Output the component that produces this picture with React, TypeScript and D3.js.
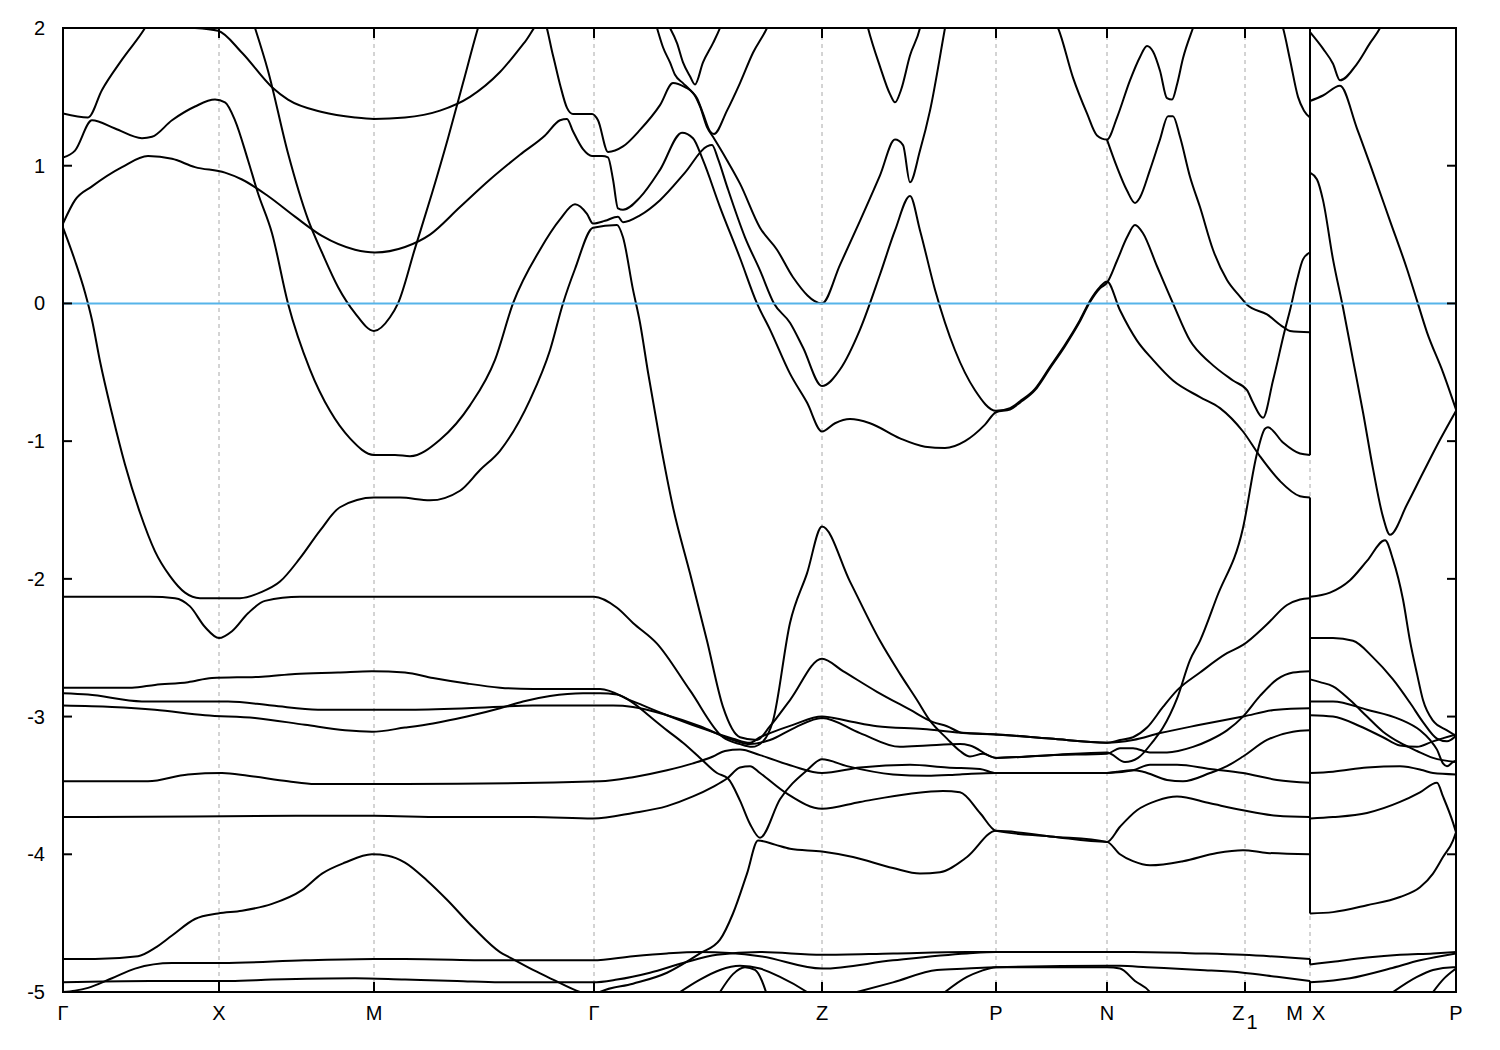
import React from "react";
import * as d3 from "d3";

// ---------- data ----------
const kMax = 13.93;
const eMin = -5;
const eMax = 2;

const symPointK = [0, 1.56, 3.11, 5.31, 7.59, 9.33, 10.44, 11.82, 12.47, 13.93];
const symPointLabels = ["Γ", "X", "M", "Γ", "Z", "P", "N", "Z1", "M|X", "P"];
const energyTicks = [2, 1, 0, -1, -2, -3, -4, -5];
const fermiLevel = 0;
// vertical connections at the M|X discontinuity: [E at top, E at bottom]
const mxJumps = [[2.0, -1.1], [-1.41, -4.43], [-4.76, -4.8], [-4.92, -4.93]];

const band01 = [[0, 1.38], [0.25, 1.35], [0.39, 1.55], [0.59, 1.77], [0.82, 2.0], [0.9, 2.1]];

const band02 = [[0, 1.06], [0.12, 1.11], [0.29, 1.33], [0.52, 1.27], [0.79, 1.2], [0.89, 1.21], [1.09, 1.33], [1.32, 1.43], [1.52, 1.48], [1.62, 1.46], [1.72, 1.33], [1.85, 1.04], [1.95, 0.8], [2.09, 0.51], [2.25, 0.0], [2.47, -0.48], [2.67, -0.78], [2.87, -0.98], [3.11, -1.1], [3.32, -1.1], [3.47, -1.11], [3.77, -0.99], [4.07, -0.74], [4.32, -0.41], [4.5, 0], [4.77, 0.39], [4.97, 0.61], [5.12, 0.72], [5.24, 0.65], [5.3, 0.58], [5.42, 0.6], [5.55, 0.63], [5.6, 0.59], [5.77, 0.64], [5.97, 0.75], [6.22, 0.95], [6.44, 1.14], [6.49, 1.15], [6.55, 1.05], [6.64, 0.85], [6.82, 0.48], [6.97, 0.24], [7.11, 0], [7.27, -0.14], [7.4, -0.32], [7.59, -0.6], [7.77, -0.48], [7.97, -0.19], [8.17, 0.21], [8.32, 0.53], [8.47, 0.78], [8.57, 0.53], [8.72, 0.1], [8.92, -0.34], [9.12, -0.63], [9.33, -0.78], [9.47, -0.76], [9.57, -0.71], [9.72, -0.62], [9.87, -0.46], [10.02, -0.3], [10.17, -0.12], [10.27, 0.02], [10.37, 0.12], [10.44, 0.16], [10.57, -0.05], [10.74, -0.27], [10.9, -0.41], [11.1, -0.56], [11.37, -0.68], [11.57, -0.76], [11.8, -0.93], [11.97, -1.11], [12.17, -1.29], [12.37, -1.4], [12.47, -1.41]];

const band03 = [[0, 0.58], [0.12, 0.75], [0.29, 0.85], [0.59, 0.99], [0.85, 1.07], [1.09, 1.05], [1.32, 0.99], [1.62, 0.95], [1.79, 0.9], [2.05, 0.78], [2.32, 0.63], [2.59, 0.49], [2.92, 0.39], [3.12, 0.37], [3.42, 0.41], [3.67, 0.5], [3.97, 0.7], [4.27, 0.9], [4.57, 1.08], [4.82, 1.22], [4.97, 1.33], [5.04, 1.34], [5.1, 1.25], [5.2, 1.12], [5.29, 1.07], [5.39, 1.07], [5.45, 1.06], [5.5, 0.9], [5.55, 0.69], [5.6, 0.68], [5.77, 0.77], [5.97, 0.97], [6.19, 1.24], [6.3, 1.2], [6.4, 1.04], [6.57, 0.7], [6.77, 0.33], [6.94, 0], [7.07, -0.19], [7.27, -0.51], [7.44, -0.72], [7.59, -0.93], [7.72, -0.87], [7.87, -0.84], [8.07, -0.87], [8.37, -0.98], [8.62, -1.04], [8.82, -1.05], [9.02, -1.0], [9.22, -0.88], [9.33, -0.79], [9.47, -0.77], [9.57, -0.72], [9.72, -0.63], [9.87, -0.47], [10.02, -0.31], [10.17, -0.13], [10.27, 0.01], [10.37, 0.11], [10.44, 0.15], [10.54, 0.31], [10.64, 0.48], [10.72, 0.57], [10.8, 0.51], [10.94, 0.27], [11.1, 0], [11.27, -0.27], [11.47, -0.43], [11.7, -0.56], [11.84, -0.63], [11.9, -0.72], [12.0, -0.83], [12.1, -0.56], [12.22, -0.19], [12.27, -0.05], [12.34, 0.17], [12.4, 0.32], [12.47, 0.37]];

const band04 = [[0, 0.55], [0.12, 0.31], [0.22, 0.08], [0.29, -0.12], [0.37, -0.42], [0.49, -0.8], [0.62, -1.17], [0.77, -1.52], [0.92, -1.8], [1.07, -1.98], [1.22, -2.1], [1.37, -2.14], [1.56, -2.14], [1.77, -2.14], [1.97, -2.1], [2.17, -2.02], [2.37, -1.85], [2.57, -1.65], [2.77, -1.48], [3.11, -1.41], [3.37, -1.41], [3.67, -1.43], [3.97, -1.36], [4.17, -1.21], [4.37, -1.07], [4.67, -0.7], [4.87, -0.34], [5.0, 0], [5.12, 0.25], [5.3, 0.55], [5.54, 0.57], [5.6, 0.48], [5.7, 0.1], [5.77, -0.14], [5.85, -0.5], [5.97, -1.0], [6.1, -1.48], [6.27, -1.96], [6.44, -2.45], [6.6, -2.93], [6.77, -3.15], [6.94, -3.17], [7.07, -3.07], [7.27, -2.88], [7.59, -2.58], [7.8, -2.67], [8.14, -2.82], [8.47, -2.95], [8.7, -3.04], [8.84, -3.07], [9.0, -3.12], [9.33, -3.13], [9.87, -3.16], [10.44, -3.19], [10.57, -3.17], [10.7, -3.15], [10.84, -3.08], [11.0, -2.93], [11.14, -2.81], [11.37, -2.68], [11.64, -2.54], [11.8, -2.48], [12.04, -2.33], [12.24, -2.19], [12.37, -2.15], [12.47, -2.14]];

const band05 = [[1.32, 2.0], [1.55, 1.98], [1.79, 1.82], [2.09, 1.57], [2.25, 1.48], [2.59, 1.39], [2.92, 1.35], [3.11, 1.34], [3.42, 1.35], [3.77, 1.4], [4.07, 1.5], [4.37, 1.68], [4.62, 1.9], [4.8, 2.06], [4.9, 1.8], [4.97, 1.59], [5.04, 1.42], [5.1, 1.375], [5.29, 1.375], [5.35, 1.33], [5.45, 1.1], [5.6, 1.14], [5.77, 1.26], [5.97, 1.44], [6.1, 1.6], [6.22, 1.57], [6.3, 1.53], [6.37, 1.43], [6.44, 1.28], [6.5, 1.21], [6.64, 1.04], [6.77, 0.87], [6.97, 0.55], [7.14, 0.39], [7.3, 0.19], [7.59, 0], [7.77, 0.28], [7.97, 0.6], [8.17, 0.93], [8.32, 1.19], [8.4, 1.15], [8.47, 0.88], [8.57, 1.11], [8.67, 1.4], [8.82, 2.0], [8.87, 2.2]];

const band06 = [[1.92, 2.0], [2.05, 1.69], [2.25, 1.09], [2.45, 0.61], [2.59, 0.37], [2.75, 0.12], [2.92, -0.07], [3.11, -0.2], [3.27, -0.1], [3.35, 0], [3.52, 0.4], [3.69, 0.8], [3.85, 1.2], [4.0, 1.6], [4.15, 2.0], [4.2, 2.12]];

const band07 = [[5.94, 2.0], [6.0, 1.86], [6.07, 1.75], [6.12, 1.66], [6.2, 1.6], [6.27, 1.55], [6.34, 1.49], [6.4, 1.38], [6.47, 1.25], [6.51, 1.23], [6.64, 1.4], [6.77, 1.6], [6.9, 1.82], [7.04, 2.0], [7.1, 2.1]];

const band08 = [[6.07, 2.0], [6.14, 1.89], [6.2, 1.75], [6.27, 1.65], [6.32, 1.59], [6.4, 1.75], [6.5, 1.89], [6.57, 2.0], [6.62, 2.1]];

const band09 = [[0, -2.13], [0.87, -2.13], [1.12, -2.14], [1.27, -2.2], [1.42, -2.35], [1.56, -2.43], [1.69, -2.38], [1.85, -2.25], [2.02, -2.16], [2.37, -2.13], [3.11, -2.13], [4.37, -2.13], [5.31, -2.13], [5.54, -2.21], [5.7, -2.32], [5.94, -2.47], [6.27, -2.81], [6.6, -3.15], [6.77, -3.2], [6.89, -3.22], [7.0, -3.18], [7.1, -3.03], [7.27, -2.32], [7.44, -1.96], [7.59, -1.62], [7.87, -2.02], [8.17, -2.45], [8.37, -2.69], [8.54, -2.88], [8.67, -3.03], [8.84, -3.16], [8.97, -3.25], [9.07, -3.29], [9.2, -3.27], [9.33, -3.3], [9.87, -3.28], [10.44, -3.26], [10.62, -3.33], [10.75, -3.3], [10.9, -3.18], [11.0, -3.08], [11.14, -2.87], [11.27, -2.59], [11.37, -2.45], [11.54, -2.13], [11.8, -1.63], [11.94, -1.09], [12.02, -0.91], [12.05, -0.9], [12.2, -1.01], [12.37, -1.09], [12.47, -1.1]];

const band10 = [[0, -2.79], [0.69, -2.79], [0.92, -2.77], [1.25, -2.75], [1.49, -2.72], [1.99, -2.71], [2.32, -2.69], [2.75, -2.68], [3.09, -2.67], [3.42, -2.68], [3.7, -2.72], [4.04, -2.76], [4.37, -2.79], [4.7, -2.8], [5.3, -2.8], [5.37, -2.8], [5.7, -2.89], [6.04, -2.99], [6.37, -3.08], [6.7, -3.16], [6.87, -3.19], [6.97, -3.15], [7.07, -3.12], [7.3, -3.06], [7.59, -3.0], [7.84, -3.03], [8.14, -3.07], [8.6, -3.09], [9.04, -3.12], [9.33, -3.13], [9.87, -3.16], [10.44, -3.19], [10.7, -3.17], [10.97, -3.12], [11.37, -3.06], [11.8, -3.0], [12.14, -2.95], [12.47, -2.94]];

const band11 = [[0, -2.83], [0.25, -2.84], [0.79, -2.89], [1.65, -2.89], [2.09, -2.92], [2.55, -2.95], [3.11, -2.95], [3.42, -2.95], [4.04, -2.94], [4.7, -2.92], [5.3, -2.92], [5.5, -2.92], [5.7, -2.93], [6.04, -2.99], [6.37, -3.07], [6.7, -3.17], [6.87, -3.2], [7.07, -3.17], [7.32, -3.08], [7.59, -3.01], [7.97, -3.12], [8.37, -3.22], [8.64, -3.21], [8.97, -3.2], [9.07, -3.21], [9.33, -3.3], [9.87, -3.28], [10.44, -3.27], [10.57, -3.23], [10.7, -3.23], [10.87, -3.26], [11.04, -3.26], [11.3, -3.22], [11.47, -3.17], [11.64, -3.1], [11.8, -3.0], [11.97, -2.85], [12.14, -2.73], [12.3, -2.68], [12.47, -2.67]];

const band12 = [[0, -2.92], [0.49, -2.93], [0.92, -2.95], [1.42, -2.99], [1.92, -3.01], [2.42, -3.06], [2.82, -3.1], [3.09, -3.11], [3.42, -3.08], [3.7, -3.05], [4.04, -3.0], [4.37, -2.94], [4.6, -2.89], [4.87, -2.85], [5.2, -2.83], [5.37, -2.83], [5.54, -2.84], [5.7, -2.9], [5.87, -3.0], [6.04, -3.1], [6.2, -3.19], [6.37, -3.3], [6.54, -3.41], [6.65, -3.45], [6.77, -3.61], [6.87, -3.78], [6.97, -3.88], [7.17, -3.6], [7.44, -3.39], [7.59, -3.31], [7.84, -3.36], [8.3, -3.42], [8.64, -3.43], [8.97, -3.42], [9.33, -3.41], [10.44, -3.41], [10.54, -3.4], [10.7, -3.39], [10.8, -3.4], [11.04, -3.46], [11.2, -3.47], [11.47, -3.41], [11.64, -3.36], [11.8, -3.29], [12.04, -3.17], [12.3, -3.11], [12.47, -3.1]];

const band13 = [[0, -3.47], [0.85, -3.47], [1.25, -3.42], [1.59, -3.41], [1.85, -3.43], [2.25, -3.47], [2.52, -3.49], [3.11, -3.49], [3.42, -3.49], [5.37, -3.47], [5.7, -3.44], [6.04, -3.39], [6.3, -3.34], [6.5, -3.29], [6.62, -3.25], [6.77, -3.24], [6.97, -3.28], [7.3, -3.36], [7.59, -3.41], [7.97, -3.37], [8.47, -3.35], [8.84, -3.37], [9.17, -3.38], [9.33, -3.41], [10.44, -3.41], [10.7, -3.39], [10.87, -3.35], [11.14, -3.35], [11.47, -3.38], [11.8, -3.41], [12.14, -3.46], [12.47, -3.48]];

const band14 = [[0, -3.73], [0.25, -3.73], [2.37, -3.72], [3.11, -3.72], [3.8, -3.73], [4.7, -3.73], [5.3, -3.74], [5.7, -3.7], [6.04, -3.65], [6.3, -3.58], [6.5, -3.51], [6.64, -3.45], [6.77, -3.37], [6.87, -3.36], [6.97, -3.41], [7.24, -3.56], [7.59, -3.67], [7.97, -3.62], [8.47, -3.56], [8.8, -3.54], [8.97, -3.55], [9.17, -3.7], [9.33, -3.83], [9.87, -3.87], [10.44, -3.91], [10.57, -3.8], [10.74, -3.68], [10.94, -3.61], [11.14, -3.58], [11.47, -3.63], [11.8, -3.68], [12.14, -3.72], [12.47, -3.73]];

const band15 = [[0, -4.76], [0.32, -4.76], [0.75, -4.74], [0.92, -4.68], [1.09, -4.59], [1.32, -4.47], [1.55, -4.43], [1.79, -4.41], [2.09, -4.36], [2.39, -4.26], [2.59, -4.14], [2.82, -4.06], [3.09, -4.0], [3.25, -4.01], [3.42, -4.06], [3.64, -4.19], [3.84, -4.33], [4.1, -4.53], [4.37, -4.71], [4.47, -4.75], [4.7, -4.84], [4.9, -4.91], [5.17, -5.0], [5.31, -5.03], [5.37, -5.0], [5.7, -4.94], [6.04, -4.86], [6.37, -4.72], [6.57, -4.62], [6.7, -4.43], [6.84, -4.14], [6.95, -3.9], [7.12, -3.93], [7.27, -3.96], [7.59, -3.98], [7.9, -4.02], [8.3, -4.1], [8.57, -4.14], [8.77, -4.13], [9.04, -4.02], [9.33, -3.83], [9.87, -3.87], [10.44, -3.91], [10.57, -4.0], [10.7, -4.05], [10.87, -4.08], [11.2, -4.05], [11.54, -3.99], [11.8, -3.97], [12.04, -3.99], [12.47, -4.0]];

const band16 = [[0, -5.0], [0.12, -4.99], [0.25, -4.97], [0.49, -4.9], [0.72, -4.83], [1.09, -4.79], [1.59, -4.79], [2.42, -4.77], [3.11, -4.76], [3.42, -4.76], [4.37, -4.77], [5.3, -4.77], [5.7, -4.74], [6.04, -4.72], [6.37, -4.71], [6.97, -4.74], [7.59, -4.83], [8.3, -4.77], [9.04, -4.72], [9.33, -4.71], [10.44, -4.71], [10.7, -4.71], [11.37, -4.72], [11.8, -4.73], [12.47, -4.76]];

const band17 = [[0, -4.93], [0.87, -4.92], [1.67, -4.92], [2.09, -4.91], [2.92, -4.9], [3.42, -4.91], [3.94, -4.92], [4.37, -4.93], [5.3, -4.93], [5.54, -4.91], [5.87, -4.86], [6.2, -4.79], [6.54, -4.73], [6.97, -4.71], [7.59, -4.73], [8.3, -4.72], [9.04, -4.71], [10.44, -4.71]];

const band18 = [[8.82, -5.0], [9.04, -4.89], [9.17, -4.85], [9.33, -4.82], [10.44, -4.81], [10.57, -4.81], [10.84, -4.82], [11.37, -4.84], [11.8, -4.86], [12.14, -4.89], [12.47, -4.92]];
const band19 = [[7.94, -5.0], [8.3, -4.93], [8.74, -4.84], [9.04, -4.83], [9.33, -4.82], [10.44, -4.82], [10.57, -4.83], [10.72, -4.92], [10.87, -5.0], [10.9, -5.03]];
const band20 = [[6.17, -5.0], [6.37, -4.91], [6.57, -4.84], [6.77, -4.81], [6.97, -4.83], [7.17, -4.89], [7.44, -5.0], [7.5, -5.03]];
const band21 = [[6.57, -5.0], [6.7, -4.87], [6.82, -4.82], [6.92, -4.84], [6.99, -4.92], [7.03, -5.0]];

const band22 = [[9.87, 2.1], [9.95, 2.0], [10.1, 1.64], [10.24, 1.38], [10.34, 1.22], [10.44, 1.19], [10.54, 1.35], [10.67, 1.62], [10.77, 1.79], [10.84, 1.87], [10.9, 1.83], [10.97, 1.69], [11.04, 1.49], [11.09, 1.48], [11.14, 1.59], [11.2, 1.78], [11.3, 2.0], [11.35, 2.1]];
const band23 = [[10.44, 1.19], [10.54, 0.99], [10.64, 0.82], [10.72, 0.73], [10.77, 0.77], [10.87, 0.97], [10.97, 1.19], [11.05, 1.36], [11.1, 1.36], [11.17, 1.21], [11.27, 0.92], [11.37, 0.7], [11.5, 0.39], [11.64, 0.17], [11.77, 0.05], [11.84, -0.01], [12.04, -0.08], [12.2, -0.17], [12.27, -0.2], [12.47, -0.21]];
const band24 = [[12.15, 2.1], [12.2, 2.0], [12.27, 1.77], [12.35, 1.5], [12.41, 1.4], [12.47, 1.35]];
const band25 = [[8.0, 2.15], [8.05, 2.0], [8.17, 1.72], [8.27, 1.52], [8.32, 1.46], [8.38, 1.55], [8.47, 1.8], [8.57, 2.0], [8.6, 2.1]];

// X -> P
const bandXP01 = [[12.47, 1.97], [12.6, 1.85], [12.7, 1.74], [12.77, 1.62], [12.94, 1.74], [13.07, 1.89], [13.17, 2.0], [13.22, 2.08]];
const bandXP02 = [[12.47, 1.47], [12.6, 1.51], [12.77, 1.58], [12.94, 1.27], [13.1, 0.95], [13.27, 0.6], [13.44, 0.25], [13.54, 0.02], [13.64, -0.21], [13.8, -0.5], [13.93, -0.77]];
const bandXP03 = [[12.47, 0.95], [12.54, 0.9], [12.6, 0.75], [12.7, 0.32], [12.8, -0.03], [12.9, -0.41], [13.0, -0.79], [13.1, -1.2], [13.2, -1.55], [13.27, -1.68], [13.44, -1.46], [13.6, -1.23], [13.77, -0.99], [13.93, -0.78]];
const bandXP04 = [[12.47, -2.13], [12.67, -2.1], [12.87, -2.01], [13.04, -1.87], [13.22, -1.72], [13.3, -1.86], [13.4, -2.15], [13.47, -2.45], [13.54, -2.69], [13.6, -2.88], [13.7, -3.03], [13.84, -3.1], [13.93, -3.14]];
const bandXP05 = [[12.47, -2.43], [12.7, -2.43], [12.9, -2.45], [13.1, -2.57], [13.3, -2.73], [13.47, -2.9], [13.6, -3.04], [13.74, -3.16], [13.84, -3.18], [13.93, -3.14]];
const bandXP06 = [[12.47, -2.73], [12.57, -2.75], [12.7, -2.78], [12.87, -2.88], [13.04, -3.0], [13.2, -3.11], [13.37, -3.19], [13.54, -3.25], [13.7, -3.3], [13.93, -3.33]];
const bandXP07 = [[12.47, -2.89], [12.7, -2.89], [13.04, -2.95], [13.37, -3.02], [13.57, -3.1], [13.67, -3.17], [13.74, -3.24], [13.8, -3.34], [13.84, -3.36], [13.9, -3.33], [13.93, -3.32]];
const bandXP08 = [[12.47, -2.99], [12.7, -3.0], [12.97, -3.07], [13.2, -3.15], [13.37, -3.21], [13.54, -3.22], [13.7, -3.18], [13.93, -3.13]];
const bandXP09 = [[12.47, -3.41], [12.7, -3.4], [13.04, -3.37], [13.37, -3.36], [13.6, -3.39], [13.7, -3.41], [13.93, -3.42]];
const bandXP10 = [[12.47, -3.74], [12.7, -3.73], [13.04, -3.7], [13.37, -3.62], [13.57, -3.55], [13.74, -3.48], [13.8, -3.58], [13.9, -3.77], [13.93, -3.84]];
const bandXP11 = [[12.47, -4.43], [12.7, -4.42], [13.04, -4.37], [13.37, -4.31], [13.57, -4.24], [13.7, -4.14], [13.8, -4.02], [13.9, -3.9], [13.93, -3.84]];
const bandXP12 = [[12.47, -4.8], [12.7, -4.78], [13.04, -4.75], [13.37, -4.73], [13.7, -4.72], [13.93, -4.71]];
const bandXP13 = [[12.47, -4.93], [12.87, -4.9], [13.27, -4.83], [13.57, -4.77], [13.93, -4.72]];
const bandXP14 = [[13.3, -5.0], [13.54, -4.89], [13.7, -4.84], [13.9, -4.82], [13.93, -4.82]];
const bandXP15 = [[13.7, -5.0], [13.8, -4.91], [13.93, -4.83]];

const allBands = [
  band01, band02, band03, band04, band05, band06, band07, band08, band09, band10,
  band11, band12, band13, band14, band15, band16, band17, band18, band19, band20,
  band21, band22, band23, band24, band25,
  bandXP01, bandXP02, bandXP03, bandXP04, bandXP05, bandXP06, bandXP07, bandXP08,
  bandXP09, bandXP10, bandXP11, bandXP12, bandXP13, bandXP14, bandXP15,
];

// ---------- chart ----------
const W = 1500;
const H = 1050;
const L = 63, R = 1456, T = 28, B = 992;
const FONT = "'Liberation Sans', Arial, sans-serif";
const FS = 20;

export default function App() {
  const x = d3.scaleLinear().domain([0, kMax]).range([L, R]);
  const y = d3.scaleLinear().domain([eMin, eMax]).range([B, T]);
  const line = d3
    .line<number[]>()
    .x((d) => x(d[0]))
    .y((d) => y(d[1]))
    .curve(d3.curveMonotoneX);

  const mxK = symPointK[symPointLabels.indexOf("M|X")];

  return (
    <svg
      width={W}
      height={H}
      style={{ position: "absolute", left: 0, top: 0, background: "#fff" }}
    >
      <rect x={0} y={0} width={W} height={H} fill="#fff" />
      <defs>
        <clipPath id="plotArea">
          <rect x={L} y={T} width={R - L} height={B - T} />
        </clipPath>
      </defs>

      {symPointK.slice(1, -1).map((k, i) => (
        <line
          key={"g" + i}
          x1={x(k)}
          x2={x(k)}
          y1={T}
          y2={B}
          stroke="#a8a8a8"
          strokeWidth={1}
          strokeDasharray="4,4"
        />
      ))}

      <g clipPath="url(#plotArea)">
        {allBands.map((b, i) => (
          <path key={"b" + i} d={line(b) || ""} fill="none" stroke="#000" strokeWidth={2} />
        ))}
        {mxJumps.map((j, i) => (
          <line
            key={"j" + i}
            x1={x(mxK)}
            x2={x(mxK)}
            y1={y(j[0])}
            y2={y(j[1])}
            stroke="#000"
            strokeWidth={2}
          />
        ))}
        <line
          x1={L}
          x2={R}
          y1={y(fermiLevel)}
          y2={y(fermiLevel)}
          stroke="#56b4e9"
          strokeWidth={2}
        />
      </g>

      <rect x={L} y={T} width={R - L} height={B - T} fill="none" stroke="#000" strokeWidth={2} />

      {energyTicks.map((e) => (
        <g key={"yt" + e}>
          <line x1={L} x2={L + 9} y1={y(e)} y2={y(e)} stroke="#000" strokeWidth={2} />
          <line x1={R - 9} x2={R} y1={y(e)} y2={y(e)} stroke="#000" strokeWidth={2} />
          <text
            x={45}
            y={y(e)}
            dy="0.35em"
            textAnchor="end"
            fontFamily={FONT}
            fontSize={FS}
            fill="#000"
          >
            {String(e)}
          </text>
        </g>
      ))}

      {symPointK.map((k, i) => {
        const lab = symPointLabels[i];
        const xx = x(k);
        let label: React.ReactNode;
        if (lab === "Z1") {
          label = (
            <text x={xx} y={1020} textAnchor="middle" fontFamily={FONT} fontSize={FS} fill="#000">
              <tspan>Z</tspan>
              <tspan dx={2} dy={9}>1</tspan>
            </text>
          );
        } else if (lab === "M|X") {
          label = (
            <g>
              <text x={xx - 7} y={1020} textAnchor="end" fontFamily={FONT} fontSize={FS} fill="#000">
                M
              </text>
              <text x={xx + 2} y={1020} textAnchor="start" fontFamily={FONT} fontSize={FS} fill="#000">
                X
              </text>
            </g>
          );
        } else {
          label = (
            <text x={xx} y={1020} textAnchor="middle" fontFamily={FONT} fontSize={FS} fill="#000">
              {lab}
            </text>
          );
        }
        return (
          <g key={"xt" + i}>
            <line x1={xx} x2={xx} y1={B} y2={B - 10} stroke="#000" strokeWidth={2} />
            <line x1={xx} x2={xx} y1={T} y2={T + 10} stroke="#000" strokeWidth={2} />
            {label}
          </g>
        );
      })}
    </svg>
  );
}
